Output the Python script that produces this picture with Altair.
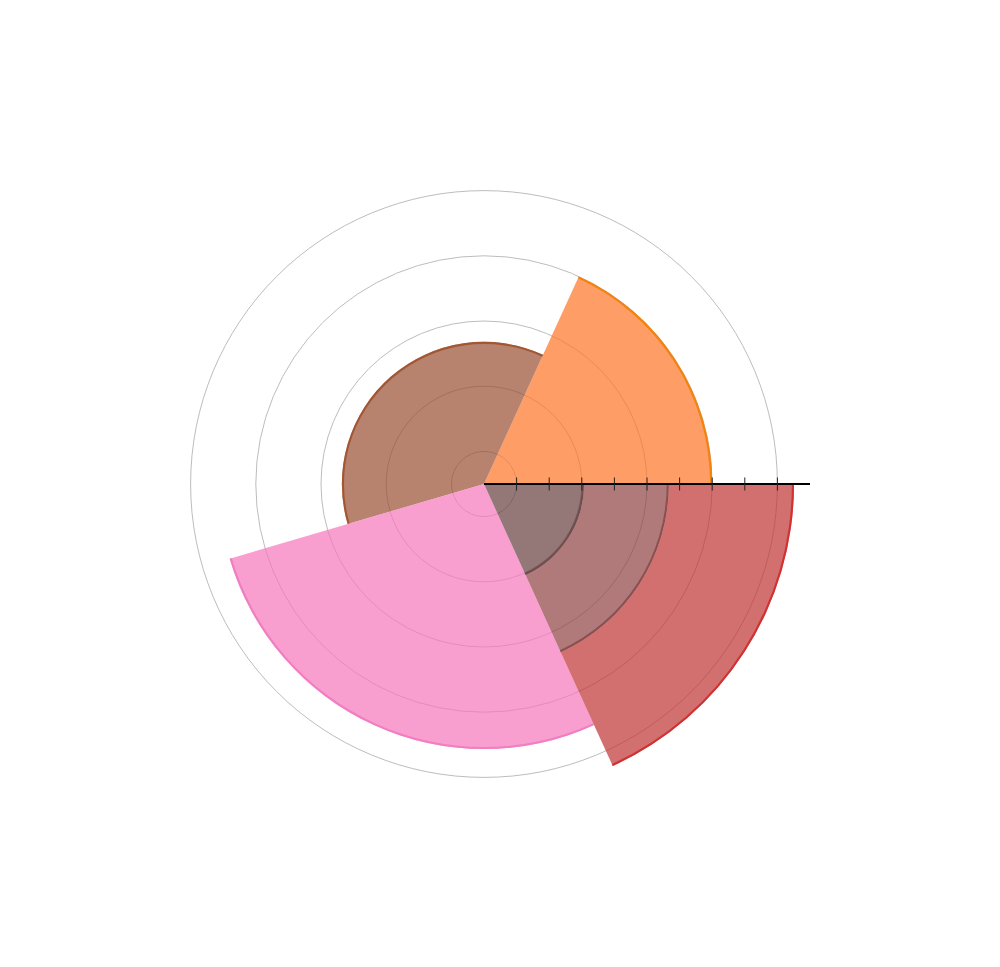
import math
import altair as alt
import pandas as pd

# ---- data ----
slice_names = ["orange", "brown", "pink", "red"]
slice_shares = [2, 4, 3, 2]            # angular shares (counter-clockwise from east)
slice_radius = [7.0, 4.36, 8.13, 9.51]
red_inner_names = ["red mid", "red inner"]
red_inner_radius = [5.67, 3.07]
grid_radii = [1, 3, 5, 7, 9]
tick_values = [1, 2, 3, 4, 5, 6, 7, 8, 9]
axis_max = 10

fill_names = ["orange", "brown", "pink", "red", "red mid", "red inner"]
fill_colors = ["#ff7427", "#9a4e30", "#f576bb", "#bf3333", "#8e4141", "#663e3e"]
edge_colors = ["#f28100", "#a0522d", "#f07ac0", "#d22a2a", "#8a4a4a", "#6e4848"]

# ---- build tables ----
total = sum(slice_shares)
starts, ends = [], []
acc = 0
for s in slice_shares:
    starts.append(acc / total * 360)
    acc += s
    ends.append(acc / total * 360)

rows = []
for i, n in enumerate(slice_names):
    r0 = red_inner_radius[0] if n == "red" else 0
    rows.append(dict(name=n, t0=starts[i], t1=ends[i], r0=r0, r1=slice_radius[i]))
red_i = slice_names.index("red")
rows.append(dict(name=red_inner_names[0], t0=starts[red_i], t1=ends[red_i],
                 r0=red_inner_radius[1], r1=red_inner_radius[0]))
rows.append(dict(name=red_inner_names[1], t0=starts[red_i], t1=ends[red_i],
                 r0=0, r1=red_inner_radius[1]))
sectors = pd.DataFrame(rows)
edges = sectors.copy()
edges["r0"] = edges["r1"] - 0.065

grid = pd.DataFrame(dict(r=grid_radii, t0=0, t1=360))
ticks = pd.DataFrame(dict(v=tick_values, y0=-0.2, y1=0.2))
axis_df = pd.DataFrame(dict(x0=[0], x1=[axis_max], y=[0]))

W = 952
UNIT = 32.6
half = (W / 2) / UNIT

theta_scale = alt.Scale(domain=[0, 360], range=[math.pi / 2, math.pi / 2 - 2 * math.pi])
r_scale = alt.Scale(type="linear", domain=[0, axis_max], range=[0, UNIT * axis_max], zero=True)
xs = alt.Scale(domain=[-half, half], nice=False, zero=False)
ys = alt.Scale(domain=[-half, half], nice=False, zero=False)

fill_scale = alt.Scale(domain=fill_names, range=fill_colors)
edge_scale = alt.Scale(domain=fill_names, range=edge_colors)

grid_layer = alt.Chart(grid).mark_arc(filled=False, stroke="#bdbdbd", strokeWidth=1).encode(
    theta=alt.Theta("t0:Q", scale=theta_scale),
    theta2="t1:Q",
    radius=alt.Radius("r:Q", scale=r_scale),
)

sector_layer = alt.Chart(sectors).mark_arc(opacity=0.7).encode(
    theta=alt.Theta("t0:Q", scale=theta_scale),
    theta2="t1:Q",
    radius=alt.Radius("r1:Q", scale=r_scale),
    radius2="r0:Q",
    color=alt.Color("name:N", scale=fill_scale, legend=None),
)

edge_layer = alt.Chart(edges).mark_arc(opacity=0.9).encode(
    theta=alt.Theta("t0:Q", scale=theta_scale),
    theta2="t1:Q",
    radius=alt.Radius("r1:Q", scale=r_scale),
    radius2="r0:Q",
    color=alt.Color("name:N", scale=edge_scale, legend=None),
)

axis_layer = alt.Chart(axis_df).mark_rule(color="#000000", strokeWidth=1.8).encode(
    x=alt.X("x0:Q", scale=xs, axis=None),
    x2="x1:Q",
    y=alt.Y("y:Q", scale=ys, axis=None),
)

tick_layer = alt.Chart(ticks).mark_rule(color="#222222", strokeWidth=1).encode(
    x=alt.X("v:Q", scale=xs, axis=None),
    y=alt.Y("y0:Q", scale=ys, axis=None),
    y2="y1:Q",
)

chart = alt.layer(grid_layer, sector_layer, edge_layer, axis_layer, tick_layer).resolve_scale(
    color="independent"
).properties(
    width=W, height=W, padding=0, autosize=alt.AutoSizeParams(type="none")
).configure_view(stroke=None)

chart.save("out.html", embed_options={"renderer": "svg", "actions": False})
